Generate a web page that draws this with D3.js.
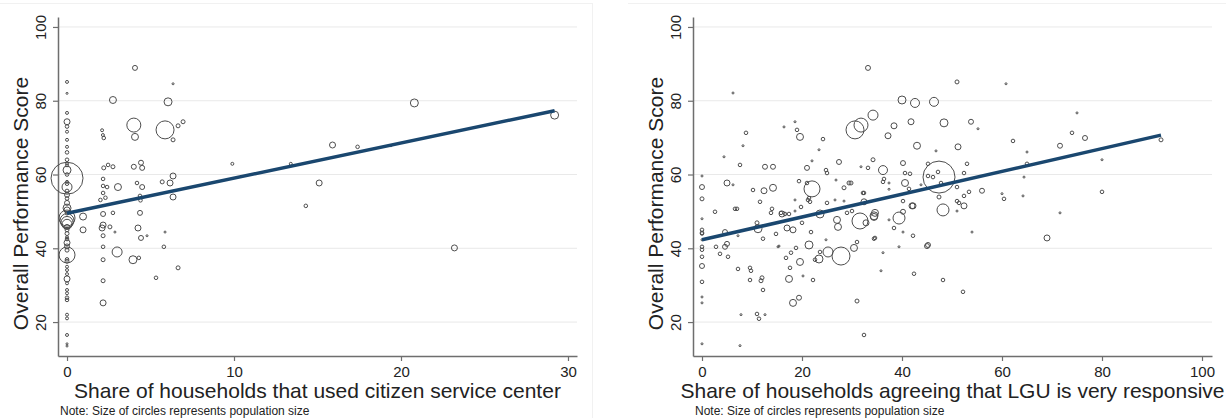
<!DOCTYPE html>
<html>
<head>
<meta charset="utf-8">
<script src="https://cdn.jsdelivr.net/npm/d3@7"></script>
<style>
  body { margin: 0; background: #fff; }
  text { font-family: "Liberation Sans", Arial, Helvetica, sans-serif; }
</style>
</head>
<body>
<svg id="chart" width="1226" height="418"></svg>
<script>
// ---- data ----
const scoreTicks = [20, 40, 60, 80, 100];
const cscTicks = [0, 10, 20, 30];
const lguTicks = [0, 20, 40, 60, 80, 100];

const yTitle = "Overall Performance Score";
const cscTitle = "Share of households that used citizen service center";
const lguTitle = "Share of households agreeing that LGU is very responsive";
const noteText = "Note: Size of circles represents population size";

// [share, score, population (thousands)]
const cscPoints = [
  [0,85.1,11],[0,82,5],[0,76.7,11],[0,74.3,45],[0,73,16],[0,71.6,11],[0,69.4,11],[0,67.5,11],
  [0,66,16],[0,64,16],[0,63,11],[0,62.5,11],[0,61.2,80],[0,60,16],[0,59,1280],[0,58,11],[0,57.5,16],
  [0,56.6,125],[0,55.5,20],[0,54.5,31],[0,53.5,16],[0,52.3,31],[0,50.9,80],[0,50.4,45],[0,49.5,16],
  [0,48.2,320],[0,47.5,245],[0,47,180],[0,46.5,125],[0,45.8,31],[0,45,20],[0,44,20],[0,43,11],
  [0,42.5,16],[0,41.5,45],[0,40.5,31],[0,39.5,20],[0,38.2,320],[0,37,16],[0,36.5,20],[0,35,11],
  [0,34.1,11],[0,33,11],[0,31.7,45],[0,30.5,11],[0,28.7,11],[0,27.8,11],[0,26.6,16],[0,26,16],
  [0,22,11],[0,21,11],[0,16.5,11],[0,14.1,5],[0,13.5,5],
  [0.96,48.6,61],[0.96,45,45],
  [2.1,72,11],[2.15,70.7,11],[2.2,69.9,16],
  [2.75,80.2,61],[6.05,79.7,80],[4.07,88.9,31],[6.35,84.6,5],[4.0,73.4,245],[5.87,72.1,405],
  [6.65,73.2,20],[6.95,74.3,20],[4.07,70.2,61],[6.35,69.4,20],
  [9.9,62.9,11],[13.4,62.9,11],[15.9,68,45],[17.4,67.5,16],[20.8,79.4,80],[19.4,67.8,5],
  [15.1,57.7,45],[14.3,51.5,16],[29.2,76.1,80],[23.2,40.1,45],
  [2.2,61.8,20],[2.46,62.6,16],[2.75,62.1,20],[4.0,62.1,31],[4.43,63.2,31],[4.5,61.8,31],
  [6.35,59.6,45],[6.17,57.7,45],[5.7,58,20],[2.16,58.8,16],[2.16,56.9,16],[2.4,56.6,16],
  [3.05,56.6,61],[4.19,57.7,16],[4.5,56.6,31],[6.35,53.9,45],[2.16,55,16],[2.3,53.7,16],
  [2.0,53.1,16],[4.37,54.2,16],[4.4,53,16],
  [2.16,49.3,31],[2.75,49.6,16],[4.37,49.6,31],[2.16,46.3,45],[2.1,45.5,45],[2.57,45.8,20],
  [2.87,44.4,5],[2.16,43.4,20],[4.25,45.5,45],[4.43,42.8,31],[4.79,43.4,5],[5.87,44.4,5],
  [5.8,40.4,16],[2.16,40.4,16],[3.0,39,125],[3.95,36.9,80],[4.3,37.4,16],[2.16,36.9,20],
  [6.65,34.7,20],[5.33,32,16],[2.16,31.2,20],[2.16,25.2,45]
];

const lguPoints = [
  [33.2,88.9,31],[6.2,82.1,5],[40,80.2,80],[42.6,79.4,101],[34.2,76.1,125],[30.6,72.1,405],
  [31.8,73.4,245],[38.4,73.2,45],[41.8,74.3,45],[37.2,70.5,45],[43,67.8,61],[18.6,74.3,5],
  [19,72.1,16],[19.6,70.2,61],[16.4,72.9,5],[24.2,69.6,16],[8.8,71.3,16],[8.2,67.8,5],
  [4.4,64.8,5],[7.6,62.6,16],[12.6,62.1,31],[14.2,62.1,31],[21,61.8,31],[22,63.7,5],
  [23.4,66.7,5],[24.8,61.2,16],[25,60.4,16],[27.4,63.4,31],[31.8,62.1,5],[33.2,61.8,16],
  [34.2,64,20],[36.2,61.2,101],[40.2,63.1,31],[40.6,60.4,16],[41.6,60.2,16],
  [0,59.6,5],[0,56.6,31],[0,53.4,20],[5,57.7,45],[6.2,57.2,5],[10.2,55.8,16],[12.4,55.6,45],
  [14.2,56.4,61],[11.6,52.6,16],[19.4,58.2,16],[22,56.1,320],[21,57.7,16],[26.8,58.5,5],
  [28.4,56.4,20],[29.4,57.7,20],[29.8,57.7,20],[32.2,55,16],[36.4,58.8,16],[37.4,57.7,5],
  [40.6,57.7,61],[40.2,52.8,16],[42.2,51.5,45],[18.6,53.1,5],[21.2,53.1,16],[21.6,52.6,16],
  [25,52.3,16],[26.6,53.1,5],[28.4,52.8,5],[32.4,52.6,45],[7,50.7,16],
  [51,85.1,20],[60.8,84.6,5],[46.4,79.7,101],[75,76.7,5],[48.4,74,80],[53.8,74.3,31],
  [55.2,72.4,5],[74,71.3,16],[76.6,69.9,31],[71.6,67.8,31],[62.2,69.1,16],[51.2,67.5,45],
  [46.8,66.4,5],[65,66.1,5],[91.8,69.4,20],[80,64,5],[45.2,62.9,16],[53,62.9,16],[65,62.9,16],
  [47.2,60.7,16],[45.2,59.6,16],[46.2,59.3,16],[47.4,59.3,1280],[52.4,60.4,16],[64.4,59.3,5],
  [47.8,57.7,16],[51,56.6,16],[56,55.6,31],[53.4,55.3,16],[52.4,54.2,16],[60,54.8,5],
  [60.4,53.4,16],[64.2,54.2,5],[80,55.3,16],[47.4,53.9,20],[51,52.8,16],[51.4,52.3,16],
  [52.4,51.5,45],[48.2,50.4,180],[51,50.1,5],[54,44.4,5],[71.6,49.6,5],[69,42.8,45],
  [45.2,40.9,31],[48.2,31.4,16],[52.2,28.2,16],
  [0,14.1,5],[7.6,13.6,5],[32.4,16.5,16],[7.8,22,5],[11,22.2,16],[11.4,20.9,16],[12.6,22,5],
  [0,26.8,5],[0,25.2,5],[0,30.9,16],[0,35.2,31],[0,37.7,16],[0,40.4,16],[0,39.6,16],
  [0,42.3,5],[0,44,16],[0,45,16],[0,48,5],[0,44.2,16],
  [2.8,40.4,16],[3.6,38.5,16],[4.6,40.4,31],[5,41.2,31],[5.2,37.7,16],[7.2,34.4,16],
  [9.6,34.7,16],[9.8,33.9,16],[9.6,31.4,16],[12,32,20],[11.8,31.2,20],[12.2,28.7,16],
  [19.4,26.6,31],[18.2,25.2,61],[17.4,31.7,61],[20.2,32.5,5],[22.2,31.4,16],[19.6,36.3,61],
  [17.6,34.7,16],[16.8,37.4,16],[17.8,38.8,16],[21.4,40.9,80],[22.6,36.9,16],[23.4,37.1,80],
  [25.2,39,125],[27.8,37.9,405],[30.4,40.1,61],[31,25.7,20],[35.8,33.9,5],[36.2,38.8,5],
  [39.4,40.4,5],[42.4,33.1,16],[42.2,43.4,16],[40.2,44.4,5],[34.6,42.8,16],[31.6,47.4,320],
  [27,47.7,61],[27.2,45.8,61],[23.6,49.3,80],[21.8,44.4,16],[20,46.9,16],[18.2,45,45],
  [17,45.5,45],[16,49.3,45],[14.8,43.9,16],[15.2,40.4,5],[12.2,42.6,16],[11.2,45.3,80],
  [11,46.9,20],[6.6,50.7,16],[2.6,49.9,16],[4.6,44.4,31],[32.8,46.9,45],[34.4,48.8,80],
  [39.4,48.2,180],[37.4,47.7,5],[40.2,49.9,31],[42,51.5,45],[45,40.6,31],
  [14,50.7,16],[13.8,49.6,16],[15.8,49.6,16],[16.6,49.3,16],[17.4,49.3,16],[18.6,50.1,5],
  [19.8,51.2,16],[21.4,53.6,16],[29,49.6,16],[30,50.1,16],[34.6,49.6,61],[34.4,48.5,61],
  [32.4,55,16],[36.2,58,16],[38.4,45.5,16],[7.2,43.4,5],[15.4,40.6,5],[18.8,40.1,16],
  [23.6,39,16],[24.8,42.3,5],[31,41.7,16],[34.4,42.6,16],[37.4,56,5],[41.4,56.1,16],[43.8,57.2,5]
];

// fitted lines (intercept, slope)
const cscFit = [49.5, 0.952];
const lguFit = [42.3, 0.309];

// ---- layout ----
const plotTop = 17, plotBottom = 356;
const svg = d3.select("#chart");

const r = d3.scaleSqrt().domain([0, 1280]).range([0, 16]);

// faint panel borders
svg.append("line").attr("x1", 0).attr("x2", 592).attr("y1", 3.5).attr("y2", 3.5)
  .attr("stroke", "#f1f1f1");
svg.append("line").attr("x1", 592.5).attr("x2", 592.5).attr("y1", 3).attr("y2", 418)
  .attr("stroke", "#f1f1f1");
svg.append("line").attr("x1", 628).attr("x2", 1226).attr("y1", 3.5).attr("y2", 3.5)
  .attr("stroke", "#f1f1f1");

function drawPanel(p) {
  const x = d3.scaleLinear().domain(p.xDomain).range([p.left, p.right]);
  const y = d3.scaleLinear().domain([10.8, 102.7]).range([plotBottom, plotTop]);
  const g = svg.append("g");

  // gridlines
  g.selectAll(".grid").data(scoreTicks).enter().append("line")
    .attr("x1", p.left).attr("x2", p.right)
    .attr("y1", d => y(d)).attr("y2", d => y(d))
    .attr("stroke", "#e9e9e9").attr("stroke-width", 1);

  // y axis
  const ya = g.append("g").attr("transform", "translate(" + p.left + ",0)")
    .call(d3.axisLeft(y).tickValues(scoreTicks).tickSize(5).tickSizeOuter(0));
  ya.select(".domain").attr("stroke", "#6e6e6e").attr("stroke-width", 1.5);
  ya.selectAll(".tick line").attr("stroke", "#6e6e6e").attr("stroke-width", 1.2);
  ya.selectAll(".tick text")
    .attr("transform", "rotate(-90)")
    .attr("x", 0).attr("y", -12.5).attr("dy", 0)
    .attr("text-anchor", "middle")
    .attr("font-size", 15).attr("fill", "#222");

  // x axis
  const xa = g.append("g").attr("transform", "translate(0," + plotBottom + ")")
    .call(d3.axisBottom(x).tickValues(p.ticks).tickSize(5).tickSizeOuter(0));
  xa.select(".domain").attr("stroke", "#6e6e6e").attr("stroke-width", 1.5);
  xa.selectAll(".tick line").attr("stroke", "#6e6e6e").attr("stroke-width", 1.2);
  xa.selectAll(".tick text").attr("y", 10).attr("font-size", 15).attr("fill", "#222");

  // circles
  const pts = p.points.slice().sort((a, b) => b[2] - a[2]);
  g.selectAll(".pt").data(pts).enter().append("circle")
    .attr("cx", d => x(d[0])).attr("cy", d => y(d[1]))
    .attr("r", d => Math.max(1, r(d[2])))
    .attr("fill", "none").attr("stroke", "#4d4d4d").attr("stroke-width", 1);

  // fitted line
  const xs = d3.extent(p.points, d => d[0]);
  g.append("path")
    .datum(xs)
    .attr("fill", "none").attr("stroke", "#1a476f").attr("stroke-width", 3.5)
    .attr("d", d3.line().x(d => x(d)).y(d => y(p.fit[0] + p.fit[1] * d)));

  // titles
  g.append("text")
    .attr("transform", "translate(" + p.yTitleX + "," + ((plotTop + plotBottom) / 2 + 17) + ") rotate(-90)")
    .attr("text-anchor", "middle").attr("font-size", 21).attr("fill", "#222")
    .text(yTitle);
  g.append("text")
    .attr("x", (p.left + p.right) / 2 + p.xTitleShift).attr("y", 398)
    .attr("text-anchor", "middle").attr("font-size", 21).attr("fill", "#222")
    .text(p.xTitle);
  g.append("text")
    .attr("x", p.noteX).attr("y", 415)
    .attr("font-size", 12).attr("fill", "#222")
    .text(noteText);
}

drawPanel({
  points: cscPoints, fit: cscFit, ticks: cscTicks, xTitle: cscTitle,
  xDomain: [-0.54, 30.54], left: 58, right: 577,
  yTitleX: 28, xTitleShift: 0, noteX: 60
});
drawPanel({
  points: lguPoints, fit: lguFit, ticks: lguTicks, xTitle: lguTitle,
  xDomain: [-1.8, 102], left: 693, right: 1212,
  yTitleX: 663, xTitleShift: 0, noteX: 695
});
</script>
</body>
</html>
